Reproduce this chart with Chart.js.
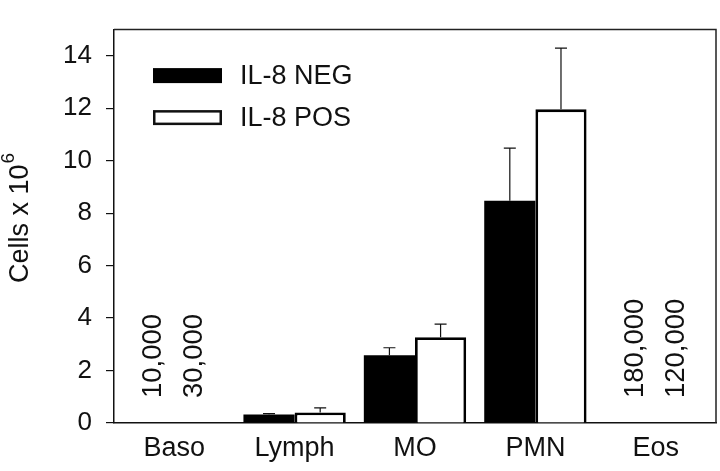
<!DOCTYPE html>
<html>
<head>
<meta charset="utf-8">
<script src="https://cdn.jsdelivr.net/npm/chart.js@4.4.1/dist/chart.umd.min.js"></script>
<style>
  html, body { margin: 0; padding: 0; background: #fff; }
  #wrap { width: 720px; height: 471px; }
</style>
</head>
<body>
<div id="wrap"><canvas id="cellChart"></canvas></div>
<script>
var categories = ['Baso', 'Lymph', 'MO', 'PMN', 'Eos'];
var negValues = [null, 0.32, 2.58, 8.47, null];
var posValues = [null, 0.40, 3.27, 11.96, null];
var negErrors = [null, 0.04, 0.29, 2.01, null];
var posErrors = [null, 0.18, 0.50, 2.33, null];
var negCounts = ['10,000', null, null, null, '180,000'];
var posCounts = ['30,000', null, null, null, '120,000'];
var seriesNames = ['IL-8 NEG', 'IL-8 POS'];

var FONT = '"Liberation Sans", Arial, sans-serif';
var INK = '#111';

// error bars (upper only), count labels, legend, frame and axis title
var extras = {
  id: 'extras',
  afterDatasetsDraw: function(chart) {
    var ctx = chart.ctx;
    var y = chart.scales.y, x = chart.scales.x;
    var area = chart.chartArea;
    var errs = [negErrors, posErrors];
    var counts = [negCounts, posCounts];

    ctx.save();
    ctx.strokeStyle = INK;
    ctx.lineWidth = 1.2;
    chart.data.datasets.forEach(function(ds, d) {
      var meta = chart.getDatasetMeta(d);
      meta.data.forEach(function(bar, i) {
        if (ds.data[i] == null) return;
        var top = y.getPixelForValue(ds.data[i] + errs[d][i]);
        ctx.beginPath();
        ctx.moveTo(bar.x, bar.y);
        ctx.lineTo(bar.x, top);
        ctx.moveTo(bar.x - 6, top);
        ctx.lineTo(bar.x + 6, top);
        ctx.stroke();
      });
    });

    // rotated cell counts where the bars are too small to see
    var barW = chart.getDatasetMeta(0).data[1].width;
    ctx.fillStyle = INK;
    ctx.font = '27.5px ' + FONT;
    ctx.textAlign = 'left';
    ctx.textBaseline = 'middle';
    counts.forEach(function(list, d) {
      list.forEach(function(txt, i) {
        if (!txt) return;
        var cx = x.getPixelForValue(i) + (d === 0 ? -0.4 : 0.4) * barW;
        ctx.save();
        ctx.translate(cx, y.getPixelForValue(0.95));
        ctx.rotate(-Math.PI / 2);
        ctx.fillText(txt, 0, 0);
        ctx.restore();
      });
    });

    // frame top and right
    ctx.strokeStyle = '#222';
    ctx.lineWidth = 1.5;
    ctx.beginPath();
    ctx.moveTo(area.left, area.top);
    ctx.lineTo(area.right, area.top);
    ctx.lineTo(area.right, area.bottom);
    ctx.stroke();

    // legend inside the plot
    var lx = area.left + 39, ly = area.top + 46;
    chart.data.datasets.forEach(function(ds, d) {
      var cy = ly + d * 42;
      ctx.fillStyle = ds.backgroundColor;
      ctx.fillRect(lx, cy - 7.5, 69, 15);
      if (ds.borderWidth) {
        ctx.strokeStyle = INK;
        ctx.lineWidth = 2.5;
        ctx.strokeRect(lx + 1.25, cy - 6.25, 66.5, 12.5);
      }
      ctx.fillStyle = INK;
      ctx.font = '27px ' + FONT;
      ctx.textAlign = 'left';
      ctx.textBaseline = 'middle';
      ctx.fillText(seriesNames[d], lx + 87, cy + 1);
    });

    // y axis title with superscript
    ctx.save();
    ctx.translate(21, 283);
    ctx.rotate(-Math.PI / 2);
    ctx.fillStyle = INK;
    ctx.textBaseline = 'middle';
    ctx.font = '27px ' + FONT;
    var main = 'Cells x 10';
    ctx.fillText(main, 0, 0);
    var w = ctx.measureText(main).width;
    ctx.font = '19px ' + FONT;
    ctx.fillText('6', w + 1, -12);
    ctx.restore();
    ctx.restore();
  }
};

new Chart(document.getElementById('cellChart'), {
  type: 'bar',
  data: {
    labels: categories,
    datasets: [{
      label: seriesNames[0],
      data: negValues,
      backgroundColor: '#000',
      borderColor: '#000',
      borderWidth: 0
    }, {
      label: seriesNames[1],
      data: posValues,
      backgroundColor: '#fff',
      borderColor: '#000',
      borderWidth: 2.8
    }]
  },
  options: {
    responsive: true,
    maintainAspectRatio: false,
    animation: false,
    layout: { padding: { top: 4, right: 4, left: 0, bottom: 0 } },
    datasets: { bar: { categoryPercentage: 0.85, barPercentage: 1 } },
    plugins: {
      legend: { display: false },
      tooltip: { enabled: false }
    },
    scales: {
      x: {
        grid: { display: false, drawTicks: false },
        border: { display: true, color: INK, width: 1.5 },
        ticks: { color: INK, font: { family: FONT, size: 27 }, padding: 9 },
        afterFit: function(s) { s.height = 48; }
      },
      y: {
        min: 0,
        max: 15,
        grid: { drawOnChartArea: false, drawTicks: true, tickLength: 8, color: INK, lineWidth: 1.2 },
        border: { display: true, color: INK, width: 1.5 },
        ticks: { stepSize: 2, includeBounds: false, color: INK, font: { family: FONT, size: 26 }, padding: 14 },
        afterFit: function(s) { s.width = 114; }
      }
    }
  },
  plugins: [extras]
});
</script>
</body>
</html>
